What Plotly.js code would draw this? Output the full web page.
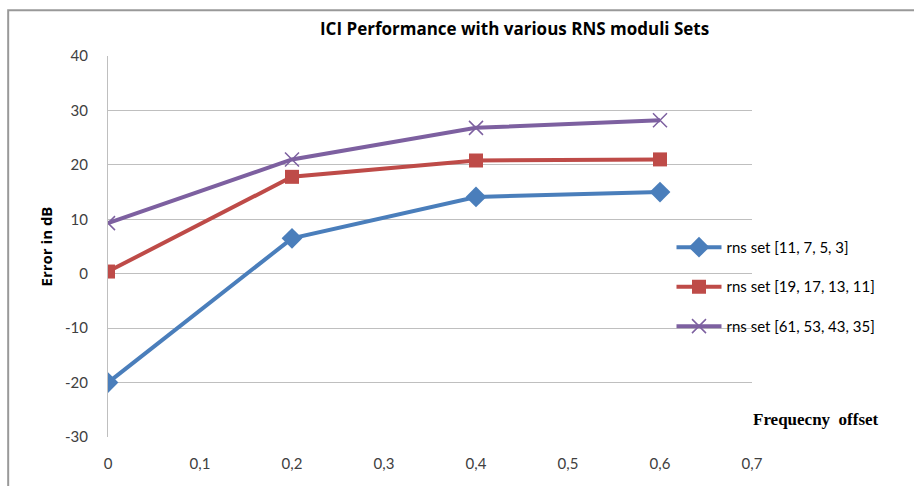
<!DOCTYPE html>
<html><head><meta charset="utf-8">
<script src="https://cdn.plot.ly/plotly-3.0.1.min.js"></script>
<style>html,body{margin:0;padding:0;background:#fff}</style>
</head><body>
<div id="chart" style="width:914px;height:486px"></div>
<script>
const xValues = [0, 0.2, 0.4, 0.6];
const seriesNames = ['rns set [11, 7, 5, 3]', 'rns set [19, 17, 13, 11]', 'rns set [61, 53, 43, 35]'];
const blueValues = [-20, 6.5, 14.1, 15.0];
const redValues = [0.4, 17.8, 20.8, 21.0];
const purpleValues = [9.3, 21.0, 26.8, 28.2];
const xTicks = [0, 0.1, 0.2, 0.3, 0.4, 0.5, 0.6, 0.7];
const yTicks = [-30, -20, -10, 0, 10, 20, 30, 40];
const yTickText = ['-30', '-20', '-10', '0', '10', '20', '30', '40'];

const font = 'Lato, "Open Sans", sans-serif';
const boldFont = '"Open Sans", Lato, sans-serif';
const traces = [
  {x: xValues, y: blueValues, name: seriesNames[0], mode: 'lines+markers', legendgroup: 'a',
   line: {color: '#4a7ebb', width: 4}, marker: {symbol: 'diamond', size: 16, color: '#4a7ebb'}},
  {x: xValues, y: redValues, name: seriesNames[1], mode: 'lines+markers', legendgroup: 'b',
   line: {color: '#be4b48', width: 4}, marker: {symbol: 'square', size: 14, color: '#be4b48'}},
  {x: xValues, y: purpleValues, name: seriesNames[2], mode: 'lines+markers', legendgroup: 'c',
   line: {color: '#7d60a0', width: 4}, marker: {symbol: 'x-thin', size: 14, color: '#7d60a0', line: {color: '#7d60a0', width: 1.5}}}
];
const layout = {
  width: 914, height: 486,
  margin: {l: 108, r: 162, t: 56, b: 49, autoexpand: false},
  paper_bgcolor: '#fff', plot_bgcolor: '#fff',
  separators: ',.',
  font: {family: font, size: 15, color: '#404040'},
  title: {text: '<b>ICI Performance with various RNS moduli Sets</b>', x: 0.563, xanchor: 'center', y: 0.94, yanchor: 'middle',
          font: {family: boldFont, size: 17, color: '#000'}},
  xaxis: {range: [0, 0.7], tickvals: xTicks, showgrid: false, zeroline: false, showline: false,
          ticks: '', ticklabelstandoff: 16, tickfont: {size: 15, color: '#404040'}},
  yaxis: {range: [-30, 40], tickvals: yTicks, ticktext: yTickText, showgrid: true, gridcolor: '#bfbfbf', gridwidth: 1,
          zeroline: false, showline: true, linecolor: '#bfbfbf', linewidth: 1, ticks: '',
          ticklabelstandoff: 16, tickfont: {size: 15, color: '#404040'},
          title: {text: '<b>Error in dB</b>', standoff: 8, font: {family: boldFont, size: 15, color: '#000'}}},
  legend: {x: 0.875, xanchor: 'left', y: 0.394, yanchor: 'middle', bgcolor: 'rgba(0,0,0,0)',
           font: {size: 15, color: '#000'}, tracegroupgap: 17, itemwidth: 45},
  annotations: [{xref: 'paper', yref: 'paper', x: 1.1, y: 0.047, xanchor: 'center', yanchor: 'middle',
                 text: '<b>Frequecny  offset</b>', showarrow: false,
                 font: {family: '"Liberation Serif", "Times New Roman", serif', size: 17, color: '#000'}}],
  shapes: [{type: 'path', xref: 'paper', yref: 'paper', path: 'M -0.155 -1 L -0.155 1.12 L 2 1.12',
            line: {color: '#999', width: 2}}],
  showlegend: true
};
Plotly.newPlot('chart', traces, layout, {displayModeBar: false, staticPlot: true});
</script>
</body></html>
